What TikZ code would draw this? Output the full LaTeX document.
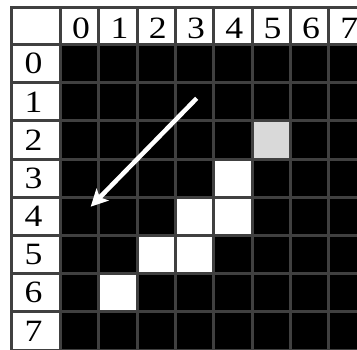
\documentclass[tikz,border=0pt]{standalone}
\usepackage{fontspec}
\setmainfont{Liberation Serif}
\newfontfamily\digitfont[FakeStretch=1.15]{Liberation Serif}
\usetikzlibrary{arrows.meta}

\definecolor{gridgray}{RGB}{64,64,64}
\definecolor{seedgray}{RGB}{217,217,217}

\begin{document}
\begin{tikzpicture}[x=1pt,y=-1pt,
    cell/.style={draw=gridgray, line width=3pt, fill=black, inner sep=0pt,
      minimum width=38.3pt, minimum height=38.2pt, anchor=north west},
    lit/.style={cell, fill=white},
    seed/.style={cell, fill=seedgray},
    head/.style={draw=gridgray, line width=3pt, fill=white, inner sep=0pt,
      anchor=north west, font=\digitfont\fontsize{31}{31}\selectfont},
    ]
    \useasboundingbox (0,0) rectangle (357,350);

    %% header row and column
    \node[head, minimum width=49pt, minimum height=37pt] (corner) at (10,6) {};
    \foreach \c in {0,...,7}
      \node[head, minimum width=38.3pt, minimum height=37pt, text depth=0pt]
        (top\c) at ({59+38.3*\c},6) {\raisebox{-4pt}{\hspace{3pt}\c}};
    \foreach \r in {0,...,7}
      \node[head, minimum width=49pt, minimum height=38.2pt]
        (side\r) at (10,{43+38.2*\r}) {\hspace{-5pt}\r};

    %% the image cells
    \foreach \r in {0,...,7}
      \foreach \c in {0,...,7}
        \node[cell] (c\r\c) at ({59+38.3*\c},{43+38.2*\r}) {};

    %% white pixels of the line, grey start pixel
    \node[seed] (c25) at ({59+38.3*5},{43+38.2*2}) {};
    \foreach \r/\c in {3/4, 4/3, 4/4, 5/2, 5/3, 6/1}
      \node[lit] (c\r\c) at ({59+38.3*\c},{43+38.2*\r}) {};

    %% direction arrow
    \coordinate (from) at (196.7,98.3);
    \coordinate (to) at (90.7,206.7);
    \draw[white, line width=4.5pt, -{Stealth[length=17pt, width=17pt, inset=4pt]}]
      (from) -- (to);
\end{tikzpicture}
\end{document}
